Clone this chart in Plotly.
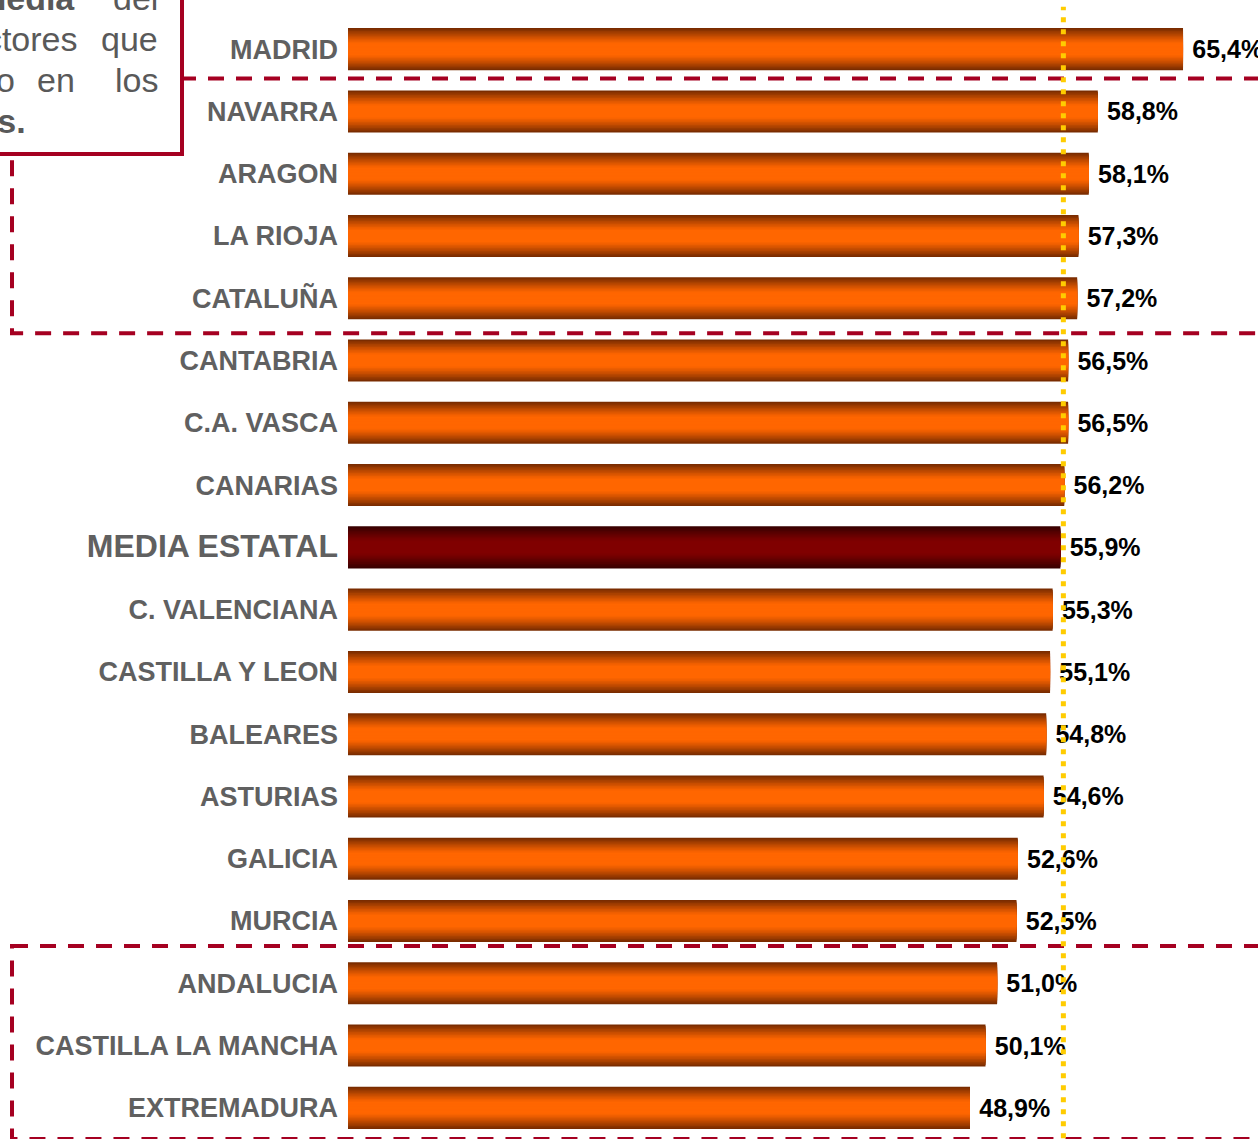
import plotly.graph_objects as go

# ---------------- data ----------------
regions = ["MADRID", "NAVARRA", "ARAGON", "LA RIOJA", "CATALUÑA", "CANTABRIA",
           "C.A. VASCA", "CANARIAS", "MEDIA ESTATAL", "C. VALENCIANA",
           "CASTILLA Y LEON", "BALEARES", "ASTURIAS", "GALICIA", "MURCIA",
           "ANDALUCIA", "CASTILLA LA MANCHA", "EXTREMADURA"]
values = [65.4, 58.8, 58.1, 57.3, 57.2, 56.5, 56.5, 56.2, 55.9, 55.3,
          55.1, 54.8, 54.6, 52.6, 52.5, 51.0, 50.1, 48.9]
media_label = "MEDIA ESTATAL"
top_group = ["NAVARRA", "CATALUÑA"]          # first/last region in upper box
bottom_group = ["ANDALUCIA", "EXTREMADURA"]  # first/last region in lower box

# ---------------- styling ----------------
W, H = 1258, 1142
ML, MR, MT, MB = 348, 0, 18, 3
PW, PH = W - ML - MR, H - MT - MB
FONT = "Liberation Sans, Arial, sans-serif"
RED = "#A50021"
YELLOW = "#FFCC00"
LABEL_GREY = "#606060"

def px_x(p):  # pixel -> paper x
    return (p - ML) / PW

def px_y(p):  # pixel -> paper y
    return 1 - (p - MT) / PH

def hex2rgb(h):
    h = h.lstrip("#")
    return tuple(int(h[i:i + 2], 16) for i in (0, 2, 4))

def lerp(c1, c2, t):
    a, b = hex2rgb(c1), hex2rgb(c2)
    return "rgb(%d,%d,%d)" % tuple(round(a[i] + (b[i] - a[i]) * t) for i in range(3))

ORANGE_C, ORANGE_E = "#FF6600", "#7A2C00"
MAROON_C, MAROON_E = "#800000", "#380000"

fig = go.Figure()

BAR_W = 0.675
N = 14
text_labels = [("%.1f" % v).replace(".", ",") + "%" for v in values]
for k in range(N):
    f = 1 - k / N
    t = max(0.0, min(1.0, (f - 0.3) / 0.7)) ** 1.2
    cols = [lerp(MAROON_C, MAROON_E, t) if r == media_label else lerp(ORANGE_C, ORANGE_E, t)
            for r in regions]
    fig.add_trace(go.Bar(
        y=regions, x=values, orientation="h",
        width=BAR_W * f,
        marker=dict(color=cols, line=dict(width=0)),
        text=["\u2005" + s for s in text_labels] if k == 0 else None,
        textposition="outside" if k == 0 else "none",
        textfont=dict(family=FONT, size=25, color="black", weight="bold"),
        constraintext="none",
        cliponaxis=False,
        hoverinfo="skip",
        showlegend=False,
    ))

ticktext = [("<span style='font-size:32px'>%s</span>" % r) if r == media_label else r
            for r in regions]

x_min = 0.72
scale = 12.91  # px per unit
fig.update_layout(
    width=W, height=H,
    margin=dict(l=ML, r=MR, t=MT, b=MB, pad=0),
    paper_bgcolor="white", plot_bgcolor="white",
    barmode="overlay",
    xaxis=dict(range=[x_min, x_min + PW / scale], visible=False, showgrid=False),
    yaxis=dict(
        categoryorder="array", categoryarray=regions,
        range=[len(regions) - 0.5, -0.5],
        tickmode="array", tickvals=regions, ticktext=ticktext,
        tickfont=dict(family=FONT, size=27, color=LABEL_GREY, weight="bold"),
        showgrid=False, zeroline=False, showline=False, ticks="",
        ticklabelstandoff=9,
    ),
    font=dict(family=FONT),
)

# dashed group boxes (small row-fraction nudges to sit like the original)
i0, i1 = regions.index(top_group[0]), regions.index(top_group[1])
j0, j1 = regions.index(bottom_group[0]), regions.index(bottom_group[1])
for a, b, ntop, nbot in [(i0, i1, -0.03, 0.06), (j0, j1, -0.1, 0.0)]:
    fig.add_shape(type="rect", xref="paper", yref="y",
                  x0=px_x(12), x1=1.02, y0=a - 0.5 + ntop, y1=b + 0.5 + nbot,
                  line=dict(color=RED, width=4, dash="16px,12px"),
                  fillcolor="rgba(0,0,0,0)", layer="above")

# average dotted line
media_val = values[regions.index(media_label)]
fig.add_shape(type="line", xref="x", yref="paper", xsizemode="pixel",
              xanchor=media_val, x0=3, x1=3, y0=-0.01, y1=1.01,
              line=dict(color=YELLOW, width=5, dash="5px,7px"), layer="above")

# clipped explanatory text box (top-left)
fig.add_shape(type="rect", xref="paper", yref="paper",
              x0=px_x(-20), x1=px_x(182), y0=px_y(154), y1=px_y(-20),
              line=dict(color=RED, width=4), fillcolor="white", layer="above")

TXT = dict(family=FONT, size=34, color="#595959")
words = [
    ("<b>media</b>", 77, 0), ("del", 160, 0),
    ("sectores", 80, 1), ("que", 160, 1),
    ("pactado", 17, 2), ("en", 77, 2), ("los", 160, 2),
    ("<b>convenios.</b>", 28, 3),
]
for txt, xr, line in words:
    fig.add_annotation(text=txt, xref="paper", yref="paper",
                       x=px_x(xr), y=px_y(-2 + 41 * line),
                       xanchor="right", yanchor="middle", showarrow=False,
                       font=TXT)

fig.write_html("out.html", config={"displayModeBar": False},
               post_script="document.body.style.margin='0';document.body.style.overflow='hidden';")
